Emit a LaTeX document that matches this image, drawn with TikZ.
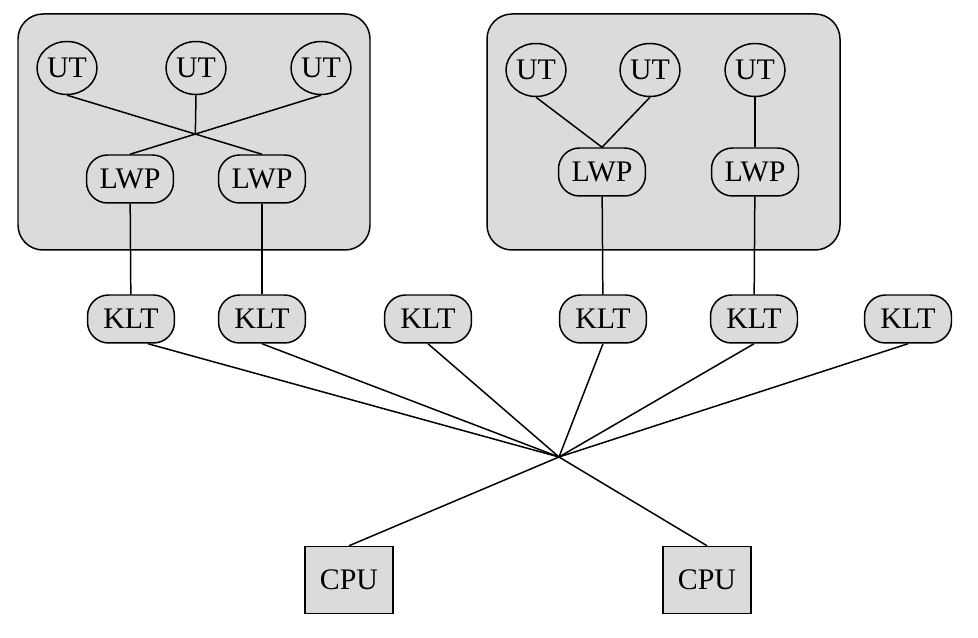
\documentclass[tikz,border=0pt]{standalone}
\usepackage{fontspec}
\setmainfont{Liberation Serif}
\usepackage{tikz}
\usetikzlibrary{shapes.geometric}
\definecolor{boxgray}{RGB}{217,219,221}

\begin{document}
\begin{tikzpicture}[x=0.02cm,y=-0.02cm,
  font=\fontsize{17}{19}\selectfont,line width=0.85pt,
  ut/.style={draw,ellipse,inner sep=0pt,minimum width=1.2cm,minimum height=1.06cm},
  pill/.style={draw,rectangle,rounded corners=0.42cm,inner sep=0pt,minimum width=1.74cm,minimum height=0.96cm},
  lwp/.style={pill},
  klt/.style={pill,fill=boxgray},
  cpu/.style={draw,rectangle,fill=boxgray,inner sep=0pt,minimum width=1.76cm,minimum height=1.34cm},
  proc/.style={draw,fill=boxgray,rounded corners=0.5cm}]
  \useasboundingbox (0,0) rectangle (978,638);
  \draw[proc] (18,14) rectangle (370,250);
  \draw[proc] (487,14) rectangle (840,250);

  \node[ut] (ut1) at (67,68) {UT};
  \node[ut] (ut2) at (196,68) {UT};
  \node[ut] (ut3) at (321,68) {UT};
  \node[ut] (ut4) at (536,70) {UT};
  \node[ut] (ut5) at (650,70) {UT};
  \node[ut] (ut6) at (755,70) {UT};

  \node[lwp] (lwp1) at (130,179) {LWP};
  \node[lwp] (lwp2) at (262,179) {LWP};
  \node[lwp] (lwp3) at (602,172) {LWP};
  \node[lwp] (lwp4) at (755,172) {LWP};

  \foreach \n/\x in {1/131,2/262,3/428,4/603,5/754,6/908}
    \node[klt] (klt\n) at (\x,319) {KLT};

  \node[cpu] (cpu1) at (349,580) {CPU};
  \node[cpu] (cpu2) at (707,580) {CPU};
  \coordinate (hub) at (559,457);

  \draw (ut1.south) -- (lwp2.north);
  \draw (ut3.south) -- (lwp1.north);
  \coordinate (cross) at (intersection of ut1.south--lwp2.north and ut3.south--lwp1.north);
  \draw (ut2.south) -- (cross);
  \draw (ut4.south) -- (lwp3.north);
  \draw (ut5.south) -- (lwp3.north);
  \draw (ut6) -- (lwp4);

  \draw (lwp1) -- (klt1);
  \draw (lwp2) -- (klt2);
  \draw (lwp3) -- (klt4);
  \draw (lwp4) -- (klt5);

  \draw ([xshift=0.34cm]klt1.south) -- (hub);
  \foreach \n in {2,...,6}
    \draw (klt\n.south) -- (hub);
  \draw (hub) -- (cpu1.north);
  \draw (hub) -- (cpu2.north);
\end{tikzpicture}
\end{document}
